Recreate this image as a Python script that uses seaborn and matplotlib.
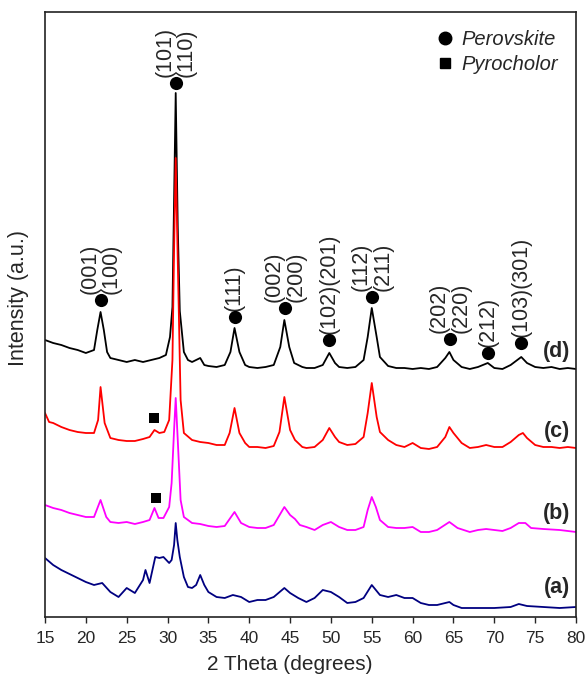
import matplotlib
matplotlib.use('Agg')
import numpy as np
import pandas as pd
import seaborn as sns
import matplotlib.pyplot as plt
from matplotlib.lines import Line2D

# 2 theta / intensity (traces already stacked)
theta_d = [15, 16, 17, 18, 19, 20, 21, 21.4, 21.8, 22.2, 22.6, 23, 24, 25, 26, 27, 28, 29, 29.8, 30.3,
           30.6, 30.75, 31.0, 31.25, 31.5, 32, 32.5, 33, 34, 34.5, 35, 36, 37, 37.7, 38.2, 38.8, 39.5,
           40, 41, 42, 43, 43.8, 44.3, 44.9, 45.5, 46.5, 47, 48, 49, 49.8, 50.5, 51, 52, 53, 54, 54.5,
           55, 55.6, 56, 57, 58, 59, 60, 61, 62, 63, 64, 64.5, 65, 66, 67, 68, 69.2, 70, 71, 72, 73.3,
           74, 75, 76, 77, 78, 79, 80]
int_d = [277, 274, 272, 269, 267, 264, 267, 287, 305, 287, 265, 259, 257, 255, 257, 255, 257, 259, 262, 280,
         310, 390, 524, 390, 306, 265, 257, 255, 259, 252, 251, 250, 252, 265, 289, 265, 252,
         250, 249, 250, 252, 270, 297, 270, 254, 250, 249, 249, 252, 264, 254, 250, 249, 250, 257, 280,
         309, 280, 260, 251, 249, 249, 248, 249, 248, 250, 259, 265, 257, 250, 248, 250, 254, 249, 248, 252, 260,
         254, 250, 249, 250, 248, 249, 248]

theta_c = [15, 15.5, 16, 17, 18, 19, 20, 21, 21.5, 21.8, 22.3, 23, 24, 25, 26, 27, 27.8, 28.4, 29, 29.6,
           30.2, 30.6, 30.8, 31.0, 31.25, 31.6, 32, 33, 34, 35, 36, 37, 37.6, 38.2, 38.8, 39.5, 40, 41,
           42, 43, 43.7, 44.3, 45, 45.6, 46.5, 47, 48, 49, 49.8, 50.5, 51, 52, 53, 54, 54.5, 55, 55.6,
           56, 57, 58, 59, 60, 61, 62, 63, 64, 64.5, 65, 66, 67, 68, 69, 70, 71, 72, 73, 73.5, 74, 75,
           76, 77, 78, 79, 80]
int_c = [204, 195, 194, 190, 187, 185, 184, 184, 197, 230, 194, 179, 177, 176, 176, 178, 180, 187, 184, 185,
         197, 257, 367, 459, 357, 217, 184, 177, 175, 174, 172, 172, 184, 209, 184, 174, 170, 170,
         169, 171, 185, 220, 187, 177, 170, 169, 170, 177, 189, 180, 175, 172, 173, 180, 204, 234, 200,
         185, 177, 172, 170, 174, 169, 168, 170, 180, 190, 184, 174, 169, 170, 172, 170, 170, 175, 182, 184, 179, 172,
         170, 170, 169, 170, 169]

theta_b = [15, 16, 17, 18, 19, 20, 21, 21.8, 22.5, 23, 24, 25, 26, 27, 27.8, 28.4, 28.9, 29.5, 30.2, 30.5,
           30.8, 31.0, 31.25, 31.6, 32, 33, 34, 35, 36, 37, 38.2, 39, 40, 41, 42, 43, 44.3, 45, 45.6,
           46.2, 47, 48, 49, 50, 51, 52, 53, 54, 54.5, 55, 55.5, 56, 57, 58, 59, 60, 61, 62, 63, 64.5,
           65.5, 67, 68, 69, 70, 71, 72, 73, 73.8, 74.5, 76, 78, 80]
int_b = [112, 109, 107, 104, 102, 100, 100, 117, 100, 95, 94, 95, 93, 95, 97, 109, 99, 99, 110, 134,
         187, 219, 177, 117, 100, 94, 93, 91, 90, 91, 105, 94, 90, 89, 89, 92, 110, 102, 98,
         92, 90, 87, 92, 95, 90, 87, 87, 90, 107, 120, 110, 97, 90, 89, 89, 90, 85, 85, 87, 95,
         89, 85, 87, 88, 87, 86, 89, 94, 94, 89, 88, 87, 85]

theta_a = [15, 16, 17, 18, 19, 20, 21, 22, 23, 24, 25, 26, 27, 27.3, 27.8, 28.5, 29, 29.5, 30.2, 30.5,
           30.8, 31.0, 31.2, 31.5, 32, 32.5, 33, 33.5, 34, 34.5, 35, 36, 37, 38, 39, 40, 41, 42, 43,
           44.3, 45, 46, 47, 48, 49, 50, 51, 52, 53, 54, 55, 55.5, 56, 57, 58, 59, 60, 61, 62, 63,
           64.5, 65, 66, 68, 70, 72, 73, 74, 76, 78, 80]
int_a = [59, 52, 47, 43, 39, 35, 32, 34, 25, 20, 29, 24, 37, 47, 34, 60, 59, 60, 54, 57,
         72, 94, 77, 60, 40, 30, 29, 32, 42, 32, 25, 20, 19, 22, 20, 15, 17, 17, 20,
         29, 24, 19, 15, 19, 27, 25, 20, 14, 15, 19, 32, 27, 22, 20, 22, 19, 19, 14, 12, 12,
         15, 12, 9, 9, 9, 10, 13, 11, 10, 9, 10]

# perovskite reflections marked on trace (d)
perov_theta = [21.8, 31.0, 38.2, 44.4, 49.8, 55.0, 64.6, 69.2, 73.3]
perov_int = [317, 534, 300, 309, 277, 320, 278, 264, 274]
perov_hkl = ['(001)\n(100)', '(101)\n(110)', '(111)', '(002)\n(200)', '(102)(201)',
             '(112)\n(211)', '(202)\n(220)', '(212)', '(103)(301)']

# pyrochlore markers on (c) and (b)
pyro_theta = [28.4, 28.6]
pyro_int = [199, 119]

samples = ['(d)', '(c)', '(b)', '(a)']
sample_label_y = [265, 185, 104, 29]
colors = ['black', '#ff0000', '#ff00ff', '#000080']

sns.set_style('ticks')
plt.rcParams['font.family'] = ['Liberation Sans', 'DejaVu Sans']

fig = plt.figure(figsize=(5.85, 6.75), dpi=100)
ax = fig.add_axes([45 / 585, 58 / 675, 531 / 585, 605 / 675])

traces = [(theta_d, int_d), (theta_c, int_c), (theta_b, int_b), (theta_a, int_a)]
for (tx, ty), name, col in zip(traces, samples, colors):
    df = pd.DataFrame({'theta': tx, 'intensity': ty})
    sns.lineplot(data=df, x='theta', y='intensity', color=col, lw=1.3, ax=ax,
                 estimator=None, sort=False)

sns.scatterplot(x=perov_theta, y=perov_int, marker='o', s=90, color='black',
                edgecolor='black', linewidth=0, ax=ax, zorder=5)
sns.scatterplot(x=pyro_theta, y=pyro_int, marker='s', s=50, color='black',
                edgecolor='black', linewidth=0, ax=ax, zorder=5)

for t, i, lab in zip(perov_theta, perov_int, perov_hkl):
    ax.annotate(lab, (t, i), xytext=(0, 4), textcoords='offset points', rotation=90,
                ha='center', va='bottom', fontsize=15.5, linespacing=1.05)

for name, y in zip(samples, sample_label_y):
    ax.text(79.3, y, name, ha='right', va='center', fontsize=15.5, fontweight='bold')

handles = [Line2D([], [], ls='none', marker='o', ms=9, color='black'),
           Line2D([], [], ls='none', marker='s', ms=7, color='black')]
ax.legend(handles, ['Perovskite', 'Pyrocholor'], loc='upper right', frameon=False,
          prop={'style': 'italic', 'size': 14.5}, handletextpad=0.3, labelspacing=0.3,
          borderaxespad=0.5, handlelength=1.0)

ax.set_xlim(15, 80)
ax.set_ylim(0, 605)
ax.set_xticks(np.arange(15, 81, 5))
ax.set_yticks([])
ax.tick_params(axis='x', direction='out', length=4, width=1, labelsize=12.5, pad=6)
for sp in ax.spines.values():
    sp.set_visible(True)
    sp.set_linewidth(1.2)
    sp.set_color('#222222')
ax.set_xlabel('2 Theta (degrees)', fontsize=15)
ax.xaxis.set_label_coords(0.461, -0.062)
ax.set_ylabel('Intensity (a.u.)', fontsize=15.5)
ax.yaxis.set_label_coords(-0.031, 0.527)

plt.savefig('out.png', dpi=100)
